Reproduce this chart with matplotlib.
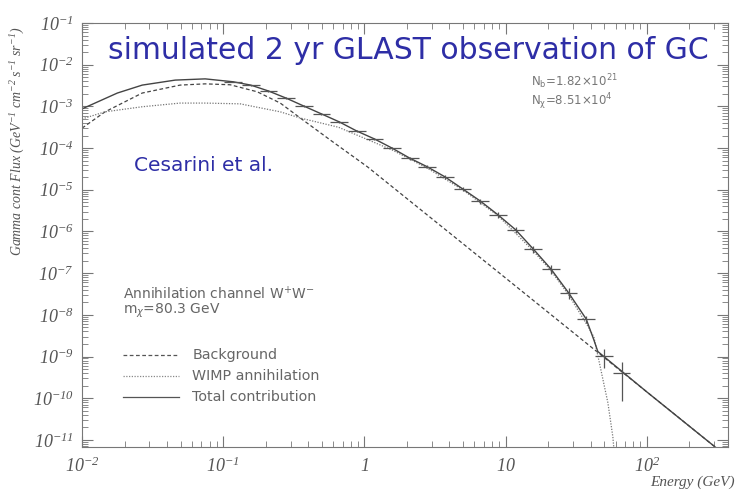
import matplotlib
matplotlib.use("Agg")
import matplotlib.pyplot as plt
import matplotlib.ticker
import numpy as np

plt.rcParams['mathtext.fontset'] = 'custom'
plt.rcParams['mathtext.it'] = 'Liberation Serif:italic'
plt.rcParams['mathtext.rm'] = 'Liberation Serif:italic'

# simulated data points (bin centres in GeV, flux, 1-sigma error)
data_energy = [0.1175, 0.1567, 0.209, 0.2786, 0.3715, 0.4955, 0.661, 0.881,
               1.175, 1.567, 2.09, 2.786, 3.715, 4.955, 6.607, 8.81,
               11.75, 15.67, 20.9, 27.86, 37.15, 49.55, 66.07]
data_flux = [3.89e-3, 3.24e-3, 2.34e-3, 1.58e-3, 1.02e-3, 6.61e-4, 4.27e-4, 2.57e-4,
             1.66e-4, 1.0e-4, 5.75e-5, 3.55e-5, 2.04e-5, 1.05e-5, 5.37e-6, 2.51e-6,
             1.10e-6, 3.80e-7, 1.26e-7, 3.39e-8, 7.94e-9, 1.02e-9, 4.07e-10]
data_err = [1.0e-4, 1.0e-4, 8.0e-5, 6.0e-5, 4.0e-5, 3.0e-5, 2.0e-5, 1.5e-5,
            1.0e-5, 7.0e-6, 5.0e-6, 3.0e-6, 2.0e-6, 1.2e-6, 7.0e-7, 4.0e-7,
            2.0e-7, 8.0e-8, 3.0e-8, 1.0e-8, 1.6e-9, 5.0e-10, 3.2e-10]
bin_halfwidth_dex = 0.0625

# model curves
bg_energy = [0.01, 0.01456, 0.0267, 0.0495, 0.0745, 0.112, 0.174, 0.2535,
             0.3515, 0.574, 1.05, 10.0, 100.0, 400.0]
bg_flux = [3.0e-4, 7.4e-4, 2.09e-3, 3.24e-3, 3.47e-3, 3.3e-3, 2.24e-3, 1.2e-3,
           5.25e-4, 1.55e-4, 3.55e-5, 7.6e-8, 1.41e-10, 3.2e-12]

wimp_energy = [0.01, 0.01456, 0.0267, 0.0495, 0.0745, 0.132, 0.2535, 0.3515,
               0.655, 1.58, 2.786, 4.95, 8.81, 15.5, 20.9, 28.0, 37.5, 42.1,
               47.2, 52.9, 57.4, 59.3]
wimp_flux = [5.0e-4, 7.4e-4, 9.8e-4, 1.2e-3, 1.2e-3, 1.15e-3, 7.4e-4, 5.25e-4,
             3.16e-4, 8.9e-5, 3.3e-5, 1.0e-5, 2.4e-6, 3.55e-7, 1.15e-7, 2.95e-8,
             5.9e-9, 2.95e-9, 4.8e-10, 7.8e-11, 1.17e-11, 3.2e-12]

total_energy = [0.01, 0.0178, 0.0267, 0.0457, 0.0745, 0.1175, 0.1567, 0.209,
                0.2786, 0.3715, 0.4955, 0.661, 0.881, 1.175, 1.567, 2.09, 2.786,
                3.715, 4.955, 6.607, 8.81, 11.75, 15.67, 20.9, 27.86, 37.15,
                42.1, 44.9, 100.0, 400.0]
total_flux = [8.7e-4, 2.09e-3, 3.24e-3, 4.27e-3, 4.57e-3, 3.89e-3, 3.24e-3, 2.34e-3,
              1.58e-3, 1.02e-3, 6.61e-4, 4.27e-4, 2.57e-4, 1.66e-4, 1.0e-4, 5.75e-5,
              3.55e-5, 2.04e-5, 1.05e-5, 5.37e-6, 2.51e-6, 1.10e-6, 3.80e-7, 1.26e-7,
              3.39e-8, 7.94e-9, 2.5e-9, 1.32e-9, 1.41e-10, 3.2e-12]

gray = '#555555'
blue = '#2e2ea6'

fig = plt.figure(figsize=(7.37, 4.93), dpi=100)
ax = fig.add_axes([82 / 737, 1 - 447 / 493, (728 - 82) / 737, (447 - 23) / 493])
ax.set_xscale('log')
ax.set_yscale('log')
ax.set_xlim(0.01, 375)
ax.set_ylim(10 ** -11.17, 0.1)

ax.plot(bg_energy, bg_flux, color='#444444', lw=0.9, ls=(0, (3, 2)))
ax.plot(wimp_energy, wimp_flux, color='#777777', lw=0.9, ls=(0, (1, 1.2)))
ax.plot(total_energy, total_flux, color='#444444', lw=1.0)

e = np.array(data_energy)
xerr = [e - e * 10 ** -bin_halfwidth_dex, e * 10 ** bin_halfwidth_dex - e]
ax.errorbar(data_energy, data_flux, xerr=xerr, yerr=data_err, fmt='none',
            ecolor='#555555', elinewidth=0.9, capsize=0)

for s in ax.spines.values():
    s.set_color('#777777')
ax.tick_params(which='both', direction='in', top=True, right=True, colors='#777777')
ax.tick_params(which='major', length=8)
ax.tick_params(which='minor', length=4)
ax.xaxis.set_minor_locator(matplotlib.ticker.LogLocator(subs=np.arange(2, 10), numticks=20))
ax.yaxis.set_minor_locator(matplotlib.ticker.LogLocator(subs=np.arange(2, 10), numticks=20))
ax.xaxis.set_minor_formatter(matplotlib.ticker.NullFormatter())
ax.yaxis.set_minor_formatter(matplotlib.ticker.NullFormatter())
ax.yaxis.set_major_locator(matplotlib.ticker.LogLocator(numticks=20))

def xfmt(v, pos):
    n = int(round(np.log10(v)))
    if n == 0:
        return '$1$'
    if n == 1:
        return '$10$'
    return '$10^{%d}$' % n

ax.xaxis.set_major_formatter(matplotlib.ticker.FuncFormatter(xfmt))
ax.yaxis.set_major_formatter(matplotlib.ticker.FuncFormatter(
    lambda v, pos: '$10^{%d}$' % int(round(np.log10(v)))))
for lab in ax.get_xticklabels() + ax.get_yticklabels():
    lab.set_color(gray)
    lab.set_fontsize(13)
ax.tick_params(axis='x', pad=7)
ax.tick_params(axis='y', pad=6)

fig.text(0.024, 0.714, 'Gamma cont Flux (GeV$^{-1}$ cm$^{-2}$ s$^{-1}$ sr$^{-1}$)',
         rotation=90, ha='center', va='center', fontsize=10, color=gray,
         family='Liberation Serif', style='italic')
fig.text(0.997, 0.022, 'Energy (GeV)', ha='right', va='center', fontsize=11,
         color=gray, family='Liberation Serif', style='italic')

ax.text(0.04, 0.935, 'simulated 2 yr GLAST observation of GC', transform=ax.transAxes,
        fontsize=21.5, color=blue, va='center', ha='left')
ax.text(0.08, 0.665, 'Cesarini et al.', transform=ax.transAxes,
        fontsize=14.5, color=blue, va='center', ha='left')
ax.text(0.695, 0.862, r'N$_\mathsf{b}$=1.82$\times$10$^{21}$', transform=ax.transAxes,
        fontsize=8.5, color='#777777', va='center', ha='left', math_fontfamily='dejavusans')
ax.text(0.695, 0.815, r'N$_\mathsf{\chi}$=8.51$\times$10$^{4}$', transform=ax.transAxes,
        fontsize=8.5, color='#777777', va='center', ha='left', math_fontfamily='dejavusans')
ax.text(0.064, 0.362, r'Annihilation channel W$^{+}$W$^{-}$', transform=ax.transAxes,
        fontsize=10, color='#666666', va='center', ha='left', math_fontfamily='dejavusans')
ax.text(0.064, 0.322, r'm$_{\chi}$=80.3 GeV', transform=ax.transAxes,
        fontsize=10, color='#666666', va='center', ha='left', math_fontfamily='dejavusans')

leg_rows = [('Background', (0, (3, 2)), '#555555'),
            ('WIMP annihilation', (0, (1, 1.2)), '#888888'),
            ('Total contribution', '-', '#555555')]
for i, (name, ls, c) in enumerate(leg_rows):
    yy = 0.218 - i * 0.05
    ax.plot([0.064, 0.15], [yy, yy], transform=ax.transAxes, color=c, ls=ls, lw=0.9)
    ax.text(0.171, yy, name, transform=ax.transAxes, fontsize=10.3, color='#666666',
            va='center', ha='left')

plt.savefig('out.png', dpi=100)
plt.close()
